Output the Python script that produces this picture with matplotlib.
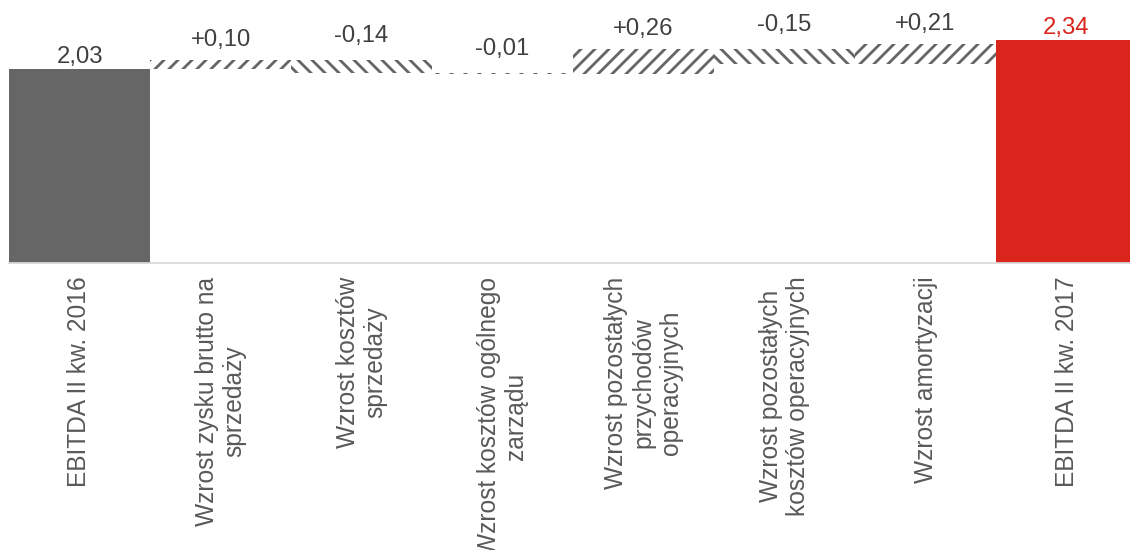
import matplotlib
matplotlib.use("Agg")
import matplotlib.pyplot as plt

plt.rcParams['font.family'] = ['Liberation Sans', 'DejaVu Sans']
plt.rcParams['hatch.linewidth'] = 2.4

# EBITDA bridge, Q2 2016 -> Q2 2017 (PLN m)
categories = [
    "EBITDA II kw. 2016",
    "Wzrost zysku brutto na\nsprzedaży",
    "Wzrost kosztów\nsprzedaży",
    "Wzrost kosztów ogólnego\nzarządu",
    "Wzrost pozostałych\nprzychodów\noperacyjnych",
    "Wzrost pozostałych\nkosztów operacyjnych",
    "Wzrost amortyzacji",
    "EBITDA II kw. 2017",
]
start_value = 2.03
deltas = [0.10, -0.14, -0.01, 0.26, -0.15, 0.21]
end_value = 2.34

GREY = "#666666"
RED = "#DA251D"
TEXT = "#404040"
TICK = "#595959"

DPI = 84
fig = plt.figure(figsize=(1130 / DPI, 550 / DPI), dpi=DPI)
# axes run slightly past the right edge, last bar gets cut there
ax = fig.add_axes([9 / 1130, (550 - 262.5) / 550, 1128 / 1130, 262.5 / 550])

x = list(range(len(categories)))

def fmt(v, sign=False):
    s = "{:+.2f}".format(v) if sign else "{:.2f}".format(v)
    return s.replace(".", ",")

# opening total
ax.bar(x[0], start_value, width=1.0, color=GREY, linewidth=0)
ax.annotate(fmt(start_value), (x[0], start_value), xytext=(0, 1),
            textcoords="offset pixels", ha="center", va="bottom",
            fontsize=20.5, color=TEXT)

# changes, hatched floating bars
level = start_value
for i, d in enumerate(deltas, start=1):
    bottom = min(level, level + d)
    ax.bar(x[i], abs(d), bottom=bottom, width=1.0, facecolor="white",
           edgecolor=GREY, linewidth=0, hatch="//" if d > 0 else "\\\\")
    off = 9 if d > 0 else 13
    ax.annotate(fmt(d, sign=True), (x[i], bottom + abs(d)), xytext=(0, off),
                textcoords="offset pixels", ha="center", va="bottom",
                fontsize=20.5, color=TEXT)
    level += d

# closing total
ax.bar(x[-1], end_value, width=1.0, color=RED, linewidth=0)
ax.annotate(fmt(end_value), (x[-1], end_value), xytext=(0, 1),
            textcoords="offset pixels", ha="center", va="bottom",
            fontsize=20.5, color=RED)

ax.set_xlim(-0.5, len(categories) - 0.5)
ax.set_ylim(0, 2.76)
ax.set_xticks(x)
ax.set_xticklabels(categories, rotation=90, fontsize=21, color=TICK,
                   multialignment="center")
ax.tick_params(axis="x", length=0, pad=12)
ax.set_yticks([])
for side in ["top", "right", "left"]:
    ax.spines[side].set_visible(False)
ax.spines["bottom"].set_color("#d9d9d9")
ax.spines["bottom"].set_linewidth(1.5)

fig.savefig("out.png", dpi=DPI)
